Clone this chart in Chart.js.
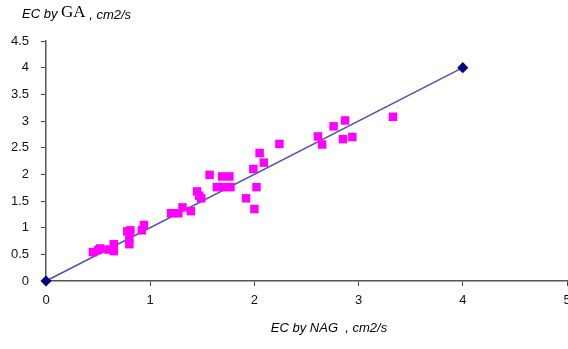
<!DOCTYPE html>
<html>
<head>
<meta charset="utf-8">
<script src="https://cdn.jsdelivr.net/npm/chart.js@4/dist/chart.umd.min.js"></script>
<style>
  html, body { margin: 0; padding: 0; background: #fff; }
  #wrap { width: 568px; height: 349px; }
</style>
</head>
<body>
<div id="wrap"><canvas id="myChart" width="568" height="349"></canvas></div>
<script>
// data
const nagValues = [0.45, 0.50, 0.52, 0.60, 0.65, 0.65, 0.78, 0.81, 0.80, 0.80, 0.92, 0.94,
    1.20, 1.27, 1.31, 1.39, 1.45, 1.47, 1.49, 1.57, 1.64, 1.70, 1.77, 1.69, 1.76,
    1.92, 2.00, 2.02, 1.99, 2.05, 2.09, 2.24, 2.61, 2.65, 2.76, 2.87, 2.85, 2.94, 3.33];
const gaValues = [0.54, 0.58, 0.61, 0.59, 0.69, 0.56, 0.93, 0.95, 0.81, 0.69, 0.95, 1.05,
    1.27, 1.27, 1.38, 1.31, 1.68, 1.60, 1.55, 1.99, 1.76, 1.76, 1.76, 1.96, 1.96,
    1.55, 1.35, 1.76, 2.10, 2.40, 2.22, 2.57, 2.71, 2.56, 2.90, 3.01, 2.66, 2.70, 3.08];
const lineX = [0, 4];
const lineY = [0, 4];
const xTicks = [0, 1, 2, 3, 4, 5];
const yTicks = [0, 0.5, 1, 1.5, 2, 2.5, 3, 3.5, 4, 4.5];

const points = nagValues.map((v, i) => ({ x: v, y: gaValues[i] }));
const linePts = lineX.map((v, i) => ({ x: v, y: lineY[i] }));

// axis titles drawn as text
const titles = {
    id: 'titles',
    afterDraw(chart) {
        const c = chart.ctx;
        c.save();
        c.fillStyle = '#000';
        c.textBaseline = 'middle';
        c.textAlign = 'left';
        let x = 22;
        c.font = 'italic 13px "Liberation Sans", Arial, sans-serif';
        c.fillText('EC by ', x, 14);
        x += c.measureText('EC by ').width;
        c.font = '17px "Liberation Serif", "Times New Roman", serif';
        c.fillText('GA', x, 13);
        x += c.measureText('GA').width;
        c.font = 'italic 13px "Liberation Sans", Arial, sans-serif';
        c.fillText(' , cm2/s', x, 15);

        c.textAlign = 'center';
        c.fillText('EC by NAG  , cm2/s', 329, 328);
        c.restore();
    }
};

const ctx = document.getElementById('myChart').getContext('2d');
const myChart = new Chart(ctx, {
    type: 'scatter',
    data: {
        datasets: [{
            label: 'line',
            data: linePts,
            showLine: true,
            clip: false,
            borderColor: '#5252ae',
            borderWidth: 1.5,
            pointStyle: 'rectRot',
            pointRadius: 4.5,
            pointBackgroundColor: '#000080',
            pointBorderColor: '#000080',
            order: 2
        }, {
            label: 'points',
            data: points,
            pointStyle: 'rect',
            pointRadius: 6,
            pointBackgroundColor: '#ff00ff',
            pointBorderColor: '#ff00ff',
            pointBorderWidth: 0,
            order: 1
        }]
    },
    options: {
        responsive: false,
        animation: false,
        layout: { autoPadding: false, padding: { top: 41, left: 0, right: 1, bottom: 0 } },
        plugins: {
            legend: { display: false },
            tooltip: { enabled: false }
        },
        scales: {
            x: {
                type: 'linear',
                min: 0,
                max: 5,
                afterBuildTicks: (s) => { s.ticks = xTicks.map(v => ({ value: v })); },
                afterFit: (s) => { s.height = 68; s.paddingLeft = 0; s.paddingRight = 0; },
                grid: { drawOnChartArea: false, tickLength: 5, tickColor: '#444', lineWidth: 1 },
                border: { color: '#555', width: 1.5 },
                ticks: { color: '#111', padding: 7, maxRotation: 0, callback: (v) => String(v),
                    font: { size: 13, family: '"Liberation Sans", Arial, sans-serif' } }
            },
            y: {
                type: 'linear',
                min: 0,
                max: 4.5,
                afterBuildTicks: (s) => { s.ticks = yTicks.map(v => ({ value: v })); },
                afterFit: (s) => { s.width = 46; },
                grid: { drawOnChartArea: false, tickLength: 5, tickColor: '#444', lineWidth: 1 },
                border: { color: '#555', width: 1.5 },
                ticks: { color: '#111', padding: 12, callback: (v) => String(v),
                    font: { size: 13, family: '"Liberation Sans", Arial, sans-serif' } }
            }
        }
    },
    plugins: [titles]
});
</script>
</body>
</html>
